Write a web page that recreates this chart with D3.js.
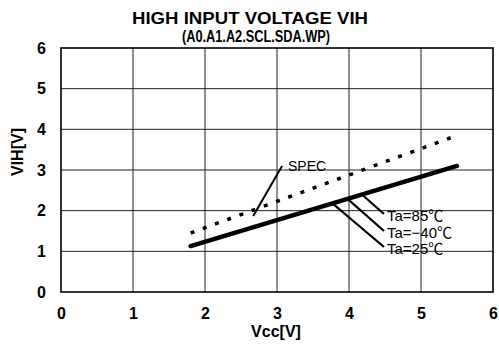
<!DOCTYPE html>
<html>
<head>
<meta charset="utf-8">
<script src="https://cdn.jsdelivr.net/npm/d3@7"></script>
<style>
  html, body { margin: 0; padding: 0; background: #fff; }
  svg { display: block; }
  text { font-family: "Liberation Sans", Arial, "Noto Sans CJK JP", sans-serif; fill: #000; }
</style>
</head>
<body>
<svg id="chart" width="499" height="361"></svg>
<script>
// Input high-level threshold vs. supply voltage
const vcc = [1.8, 5.5];
const vihMeasured = [1.13, 3.1];   // Ta = -40 / 25 / 85 ℃ (overlapping)
const vihSpec = [1.45, 3.85];      // specification limit

const xTicks = [0, 1, 2, 3, 4, 5, 6];
const yTicks = [0, 1, 2, 3, 4, 5, 6];

const titleLines = ["HIGH INPUT VOLTAGE VIH", "(A0.A1.A2.SCL.SDA.WP)"];
const xTitle = "Vcc[V]";
const yTitle = "VIH[V]";

// Temperature callouts: Vcc where the leader leaves the curve, label text
const tempLabels = ["Ta=85℃", "Ta=\u221240℃", "Ta=25℃"];
const tempLeaderVcc = [4.18, 3.98, 3.77];
const specLabel = "SPEC";

const svg = d3.select("#chart");
const plotL = 61, plotR = 493, plotT = 48, plotB = 292;

const x = d3.scaleLinear().domain([0, 6]).range([plotL, plotR]);
const y = d3.scaleLinear().domain([0, 6]).range([plotB, plotT]);

// Grid
const grid = svg.append("g");
grid.selectAll(".vg").data(xTicks.slice(1, -1)).join("line")
  .attr("x1", d => x(d)).attr("x2", d => x(d))
  .attr("y1", plotT).attr("y2", plotB)
  .attr("stroke", "#222").attr("stroke-width", 1);
grid.selectAll(".hg").data(yTicks.slice(1, -1)).join("line")
  .attr("x1", plotL).attr("x2", plotR)
  .attr("y1", d => y(d)).attr("y2", d => y(d))
  .attr("stroke", "#222").attr("stroke-width", 1);

// Frame
svg.append("rect")
  .attr("x", plotL).attr("y", plotT)
  .attr("width", plotR - plotL).attr("height", plotB - plotT)
  .attr("fill", "none").attr("stroke", "#000").attr("stroke-width", 1.6);

// Axis tick labels via d3 axes (no domain / tick lines)
const xAxis = svg.append("g").attr("transform", `translate(0,${plotB})`)
  .call(d3.axisBottom(x).tickValues(xTicks).tickSize(0).tickPadding(16).tickFormat(d3.format("d")));
const yAxis = svg.append("g").attr("transform", `translate(${plotL},0)`)
  .call(d3.axisLeft(y).tickValues(yTicks).tickSize(0).tickPadding(15).tickFormat(d3.format("d")));
[xAxis, yAxis].forEach(g => {
  g.select(".domain").remove();
  g.selectAll("text")
    .attr("font-family", "'Liberation Sans', Arial, sans-serif")
    .attr("font-size", 16).attr("font-weight", "bold").attr("fill", "#000");
});

// Lines
const line = d3.line().x(d => x(d[0])).y(d => y(d[1]));
svg.append("path")
  .datum(vcc.map((v, i) => [v, vihSpec[i]]))
  .attr("d", line).attr("fill", "none")
  .attr("stroke", "#000").attr("stroke-width", 3.5)
  .attr("stroke-dasharray", "4,9");
svg.append("path")
  .datum(vcc.map((v, i) => [v, vihMeasured[i]]))
  .attr("d", line).attr("fill", "none")
  .attr("stroke", "#000").attr("stroke-width", 4.5)
  .attr("stroke-linecap", "round");

// SPEC callout
const specFrom = [3.07, 3.1], specTo = [2.67, 1.87];
svg.append("line")
  .attr("x1", x(specFrom[0])).attr("y1", y(specFrom[1]))
  .attr("x2", x(specTo[0])).attr("y2", y(specTo[1]))
  .attr("stroke", "#000").attr("stroke-width", 2);
svg.append("text")
  .attr("x", x(specFrom[0]) + 6).attr("y", y(specFrom[1]) + 5)
  .attr("font-size", 14).text(specLabel);

// Temperature callouts
const measAt = d3.scaleLinear().domain(vcc).range(vihMeasured);
const labelX = 387;
const labelY = [216, 233, 249];
tempLabels.forEach((t, i) => {
  const v = tempLeaderVcc[i];
  svg.append("line")
    .attr("x1", x(v)).attr("y1", y(measAt(v)))
    .attr("x2", labelX - 3).attr("y2", labelY[i] - 2)
    .attr("stroke", "#000").attr("stroke-width", 2.2);
  svg.append("text")
    .attr("x", labelX).attr("y", labelY[i] + 5)
    .attr("font-size", 15).text(t);
});

// Titles
svg.append("text")
  .attr("x", 250).attr("y", 24).attr("text-anchor", "middle")
  .attr("font-size", 17).attr("font-weight", "bold")
  .attr("textLength", 236).attr("lengthAdjust", "spacingAndGlyphs")
  .text(titleLines[0]);
svg.append("text")
  .attr("x", 256).attr("y", 42).attr("text-anchor", "middle")
  .attr("font-size", 16).attr("font-weight", "bold")
  .attr("textLength", 148).attr("lengthAdjust", "spacingAndGlyphs")
  .text(titleLines[1]);

svg.append("text")
  .attr("x", 276).attr("y", 337).attr("text-anchor", "middle")
  .attr("font-size", 16).attr("font-weight", "bold")
  .text(xTitle);
svg.append("text")
  .attr("transform", "translate(23,152) rotate(-90)")
  .attr("text-anchor", "middle")
  .attr("font-size", 16).attr("font-weight", "bold")
  .text(yTitle);
</script>
</body>
</html>
